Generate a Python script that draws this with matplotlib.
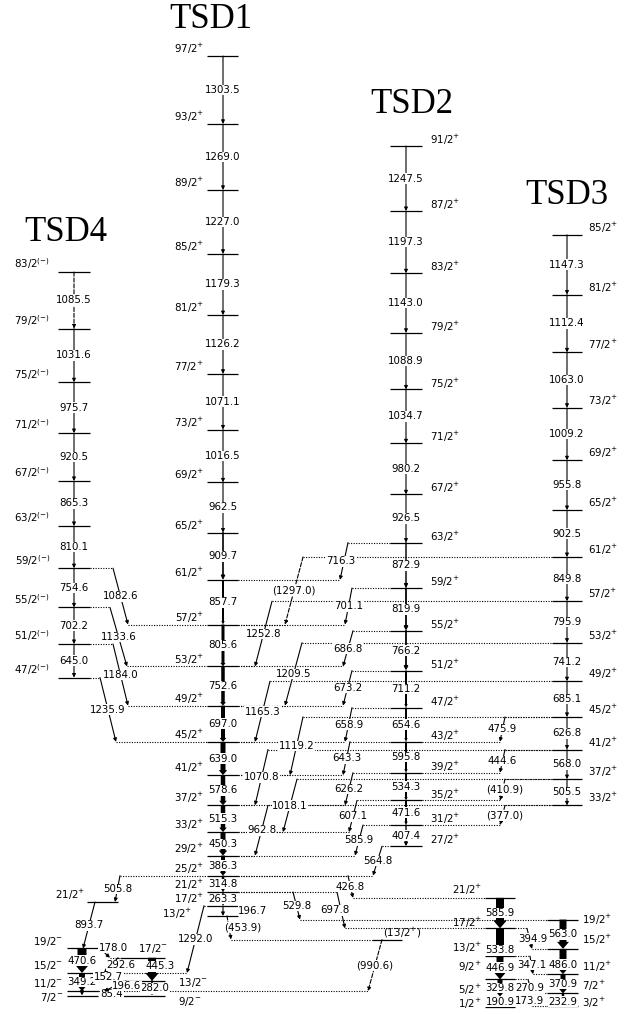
import matplotlib.pyplot as plt

# Level scheme on a true energy scale: x in figure pixels, y in keV
PX_PER_KEV = 0.05205
Y0 = 1006.5          # pixel row of E = 0
W, H = 624, 1014

# ---------------- bands: spins (2I), in-band gammas (upward), bandhead energy
tsd1_spins = list(range(13, 98, 4))
tsd1_gammas = [196.7, 263.3, 314.8, 386.3, 450.3, 515.3, 578.6, 639.0, 697.0,
               752.6, 805.6, 857.7, 909.7, 962.5, 1016.5, 1071.1, 1126.2,
               1179.3, 1227.0, 1269.0, 1303.5]
tsd1_head = 1739.2

tsd2_spins = list(range(27, 92, 4))
tsd2_gammas = [407.4, 471.6, 534.3, 595.8, 654.6, 711.2, 766.2, 819.9, 872.9,
               926.5, 980.2, 1034.7, 1088.9, 1143.0, 1197.3, 1247.5]
tsd2_head = 3078.8

tsd3_spins = list(range(33, 86, 4))
tsd3_gammas = [505.5, 568.0, 626.8, 685.1, 741.2, 795.9, 849.8, 902.5, 955.8,
               1009.2, 1063.0, 1112.4, 1147.3]
tsd3_head = 3863.1

tsd4_spins = list(range(47, 84, 4))
tsd4_gammas = [645.0, 702.2, 754.6, 810.1, 865.3, 920.5, 975.7, 1031.6, 1085.5]
tsd4_head = 6319.4

a_spins = [1, 5, 9, 13, 17, 21]
a_gammas = [190.9, 329.8, 446.9, 533.8, 585.9]
a_head = 0.0

b_spins = [3, 7, 11, 15, 19]
b_gammas = [232.9, 370.9, 486.0, 563.0]
b_head = 17.0

m1_spins = [7, 11, 15, 19]
m1_gammas = [85.4, 349.2, 470.6]
m1_head = 209.3

m2_spins = [9, 13, 17]
m2_gammas = [282.0, 445.3]
m2_head = 209.2

side_spins = [21]
side_gammas = []
side_head = 2008.2

tent_spins = [13]
tent_gammas = []
tent_head = 1285.3

# linking transitions: label, initial band/spin, final band/spin
links = [
    ('1082.6', 'TSD4', 59, 'TSD1', 57),
    ('1133.6', 'TSD4', 55, 'TSD1', 53),
    ('1184.0', 'TSD4', 51, 'TSD1', 49),
    ('1235.9', 'TSD4', 47, 'TSD1', 45),
    ('(1297.0)', 'TSD3', 61, 'TSD1', 57),
    ('1252.8', 'TSD3', 57, 'TSD1', 53),
    ('1209.5', 'TSD3', 53, 'TSD1', 49),
    ('1165.3', 'TSD3', 49, 'TSD1', 45),
    ('1119.2', 'TSD3', 45, 'TSD1', 41),
    ('1070.8', 'TSD3', 41, 'TSD1', 37),
    ('1018.1', 'TSD3', 37, 'TSD1', 33),
    ('962.8', 'TSD3', 33, 'TSD1', 29),
    ('716.3', 'TSD2', 63, 'TSD1', 61),
    ('701.1', 'TSD2', 59, 'TSD1', 57),
    ('686.8', 'TSD2', 55, 'TSD1', 53),
    ('673.2', 'TSD2', 51, 'TSD1', 49),
    ('658.9', 'TSD2', 47, 'TSD1', 45),
    ('643.3', 'TSD2', 43, 'TSD1', 41),
    ('626.2', 'TSD2', 39, 'TSD1', 37),
    ('607.1', 'TSD2', 35, 'TSD1', 33),
    ('585.9', 'TSD2', 31, 'TSD1', 29),
    ('564.8', 'TSD2', 27, 'TSD1', 25),
    ('475.9', 'TSD3', 45, 'TSD2', 43),
    ('444.6', 'TSD3', 41, 'TSD2', 39),
    ('(410.9)', 'TSD3', 37, 'TSD2', 35),
    ('(377.0)', 'TSD3', 33, 'TSD2', 31),
    ('505.8', 'TSD1', 25, 'S', 21),
    ('893.7', 'S', 21, 'M1', 19),
    ('1292.0', 'TSD1', 17, 'M1', 15),
    ('(453.9)', 'TSD1', 13, 'X', 13),
    ('(990.6)', 'X', 13, 'M1', 11),
    ('529.8', 'TSD1', 21, 'B', 19),
    ('697.8', 'TSD1', 21, 'A', 17),
    ('426.8', 'TSD1', 25, 'A', 21),
    ('394.9', 'A', 17, 'B', 15),
    ('347.1', 'A', 13, 'B', 11),
    ('270.9', 'A', 9, 'B', 7),
    ('173.9', 'A', 5, 'B', 3),
    ('178.0', 'M1', 19, 'M2', 17),
    ('292.6', 'M2', 17, 'M1', 15),
    ('152.7', 'M1', 15, 'M2', 13),
    ('196.6', 'M2', 13, 'M1', 11),
]

# ---------------- layout
# band: (spins, gammas, head, x0, x1, xc, parity)
bands = {
    'TSD1': (tsd1_spins, tsd1_gammas, tsd1_head, 207, 238, 223, '+'),
    'TSD2': (tsd2_spins, tsd2_gammas, tsd2_head, 390, 422, 406, '+'),
    'TSD3': (tsd3_spins, tsd3_gammas, tsd3_head, 552, 582, 567, '+'),
    'TSD4': (tsd4_spins, tsd4_gammas, tsd4_head, 58, 90, 74, '(-)'),
    'A': (a_spins, a_gammas, a_head, 485, 515, 500, '+'),
    'B': (b_spins, b_gammas, b_head, 547, 578, 563, '+'),
    'M1': (m1_spins, m1_gammas, m1_head, 67, 98, 82, '-'),
    'M2': (m2_spins, m2_gammas, m2_head, 120, 165, 152, '-'),
    'S': (side_spins, side_gammas, side_head, 87, 118, 103, '+'),
    'X': (tent_spins, tent_gammas, tent_head, 372, 402, 387, '+'),
}

# arrow widths (px) of in-band transitions, bottom up
widths = {
    'TSD1': [1, 1.2, 2.5, 4, 5, 4.5, 4.5, 5, 4, 3.5, 3, 2, 1.5],
    'TSD2': [1.2, 2, 2, 2, 2, 2, 1.6, 1.6, 1.3],
    'A': [2.5, 5, 7, 8, 8],
    'B': [2.5, 5, 7, 7],
    'M1': [1.5, 6, 9],
    'M2': [1.5, 8],
}

# spin label placement: (side, dx, dy) relative to the level line end
spin_place = {
    'TSD1': ('left', -3, 7),
    'TSD2': ('right', 8, 6),
    'TSD3': ('right', 6, 7),
    'TSD4': ('left', -8, 8),
    'A': ('left', -3, 6),
    'B': ('right', 4, 6),
    'M1': ('left', -4, 7),
    'S': ('left', -2, 7),
}
spin_dy = {('A', 21): 8, ('A', 17): 5, ('A', 13): 8, ('A', 9): 12, ('A', 5): 7,
           ('A', 1): 3, ('B', 19): 0, ('B', 15): 9, ('B', 11): 7, ('B', 7): 8,
           ('B', 3): 3, ('M1', 7): -2, ('M1', 11): 8, ('M1', 15): 7,
           ('TSD1', 13): 2}
spin_dx = {('TSD1', 13): -15}

# gamma label offsets (px) for in-band transitions (band, upper spin)
inband_off = {('TSD1', 17): (30, 0), ('A', 17): (0, -8), ('B', 15): (0, -3),
              ('B', 7): (0, -2), ('M1', 11): (30, -1), ('M2', 17): (8, 3),
              ('M2', 13): (3, 0)}

# link geometry: start x, end x, label offset (px)
link_geo = {
    '1082.6': (113, 128, 0, 0), '1133.6': (110, 127, 0, 0),
    '1184.0': (113, 128, 0, 0), '1235.9': (100, 116, 0, 0),
    '(1297.0)': (303, 285, 0, 0), '1252.8': (272, 255, 0, 0),
    '1209.5': (302, 285, 0, 0), '1165.3': (270, 255, 0, 0),
    '1119.2': (303, 290, 0, 0), '1070.8': (268, 255, 0, 0),
    '1018.1': (297, 283, 0, 0), '962.8': (268, 255, 0, 0),
    '716.3': (348, 340, -3, 0), '701.1': (352, 345, 0, 0),
    '686.8': (353, 343, 0, 0), '673.2': (352, 343, 0, 0),
    '658.9': (352, 345, 0, 0), '643.3': (350, 343, 0, 0),
    '626.2': (353, 345, 0, 0), '607.1': (357, 349, 0, 0),
    '585.9': (363, 355, 0, 0), '564.8': (382, 373, 0, 0),
    '475.9': (505, 500, 0, 0), '444.6': (505, 500, 0, 0),
    '(410.9)': (505, 500, 2, 0), '(377.0)': (505, 500, 2, 0),
    '505.8': (120, 115, 0, 0), '893.7': (95, 83, 0, 0),
    '1292.0': (204, 187, 0, 0), '(453.9)': (227, 231, 14, 0),
    '(990.6)': (382, 368, 0, 0), '529.8': (293, 300, 0, 0),
    '697.8': (337, 345, -6, 0), '426.8': (348, 353, 0, 0),
    '394.9': (527, 532, 3, 0), '347.1': (530, 533, 0, 0),
    '270.9': (528, 532, 0, -2), '173.9': (528, 532, 0, 0),
    '178.0': (100, 110, 8, 5), '292.6': (118, 104, 10, 0),
    '152.7': (100, 116, 0, 0), '196.6': (126, 104, 12, 0),
}

titles = {'TSD1': (211, 19), 'TSD2': (412, 104), 'TSD3': (567, 195),
          'TSD4': (66, 232)}

FONT = 7.4
DOT = (0, (1, 1.3))


def y2e(ypx):
    return (Y0 - ypx) / PX_PER_KEV


fig = plt.figure(figsize=(W / 100, H / 100), dpi=100)
ax = fig.add_axes([0, 0, 1, 1])
ax.set_xlim(0, W)
ax.set_ylim(y2e(H), y2e(0))
ax.axis('off')

energies = {}
for name, (spins, gammas, head, x0, x1, xc, par) in bands.items():
    e = head
    for i, s in enumerate(spins):
        energies[(name, s)] = e
        if i < len(gammas):
            e += gammas[i]


def spin_text(n, par):
    return f'{n}/2$^{{{par}}}$'


def label(x, e, s, dx=0, dy=0, ha='center', bg=True):
    kw = dict(bbox=dict(fc='white', ec='none', pad=0.25)) if bg else {}
    ax.annotate(s, (x, e), xytext=(dx, dy), textcoords='offset pixels',
                ha=ha, va='center', fontsize=FONT, **kw)


def arrow(x0, e0, x1, e1, width=1.0, dashed=False):
    ls = '--' if dashed else '-'
    if width <= 1.6:
        props = dict(arrowstyle='-|>', lw=0.8 * width, color='k', shrinkA=0,
                     shrinkB=0, mutation_scale=5, linestyle=ls)
    else:
        tw = width * 0.72
        props = dict(arrowstyle=f'simple,tail_width={tw},head_width={tw * 1.7},'
                                f'head_length={max(tw * 1.0, 2.5)}',
                     fc='k', ec='k', lw=0, shrinkA=0, shrinkB=0,
                     mutation_scale=1)
    ax.annotate('', xy=(x1, e1), xytext=(x0, e0), arrowprops=props)


# levels, in-band cascades and spin labels
for name, (spins, gammas, head, x0, x1, xc, par) in bands.items():
    for s in spins:
        ax.plot([x0, x1], [energies[(name, s)]] * 2, color='k', lw=0.9,
                solid_capstyle='butt')
    wl = widths.get(name, [])
    for i, g in enumerate(gammas):
        e_hi = energies[(name, spins[i + 1])]
        w = wl[i] if i < len(wl) else 1.0
        dashed = name == 'TSD4' and i == len(gammas) - 1
        arrow(xc, e_hi, xc, e_hi - g, w, dashed)
        dx, dy = inband_off.get((name, spins[i + 1]), (0, 0))
        label(xc, e_hi - g / 2, f'{g:.1f}', dx, dy)
    if name in spin_place:
        side, dx0, dy0 = spin_place[name]
        for s in spins:
            dy = spin_dy.get((name, s), dy0)
            dx = spin_dx.get((name, s), dx0)
            xa = x0 if side == 'left' else x1
            ha = 'right' if side == 'left' else 'left'
            label(xa, energies[(name, s)], spin_text(s, par), dx, dy, ha, bg=False)

# spin labels placed individually
label(153, energies[('M2', 17)], spin_text(17, '-'), 0, 9, bg=False)
label(178, energies[('M2', 13)], spin_text(13, '-'), 0, -2, 'left', bg=False)
label(178, energies[('M2', 9)], spin_text(9, '-'), 0, -6, 'left', bg=False)
label(383, energies[('X', 13)], '(' + spin_text(13, '+') + ')', 0, 7, 'left',
      bg=False)

# linking transitions with dotted level extensions
for text, bi, si, bf, sf in links:
    g = float(text.strip('()'))
    dashed = text.startswith('(')
    xs, xe, ldx, ldy = link_geo[text]
    ei = energies[(bi, si)]
    ef = ei - g
    for b, s, x, e in ((bi, si, xs, ei), (bf, sf, xe, energies[(bf, sf)])):
        x0, x1 = bands[b][3], bands[b][4]
        if x < x0:
            ax.plot([x, x0], [e, e], color='k', lw=0.8, ls=DOT)
        elif x > x1:
            ax.plot([x1, x], [e, e], color='k', lw=0.8, ls=DOT)
    arrow(xs, ei, xe, ef, 1.0, dashed)
    label((xs + xe) / 2, (ei + ef) / 2, text, ldx, ldy)

for name, (x, ypx) in titles.items():
    ax.text(x, y2e(ypx), name, ha='center', va='center', fontsize=25,
            family='Liberation Serif')

fig.savefig('out.png', dpi=100)
